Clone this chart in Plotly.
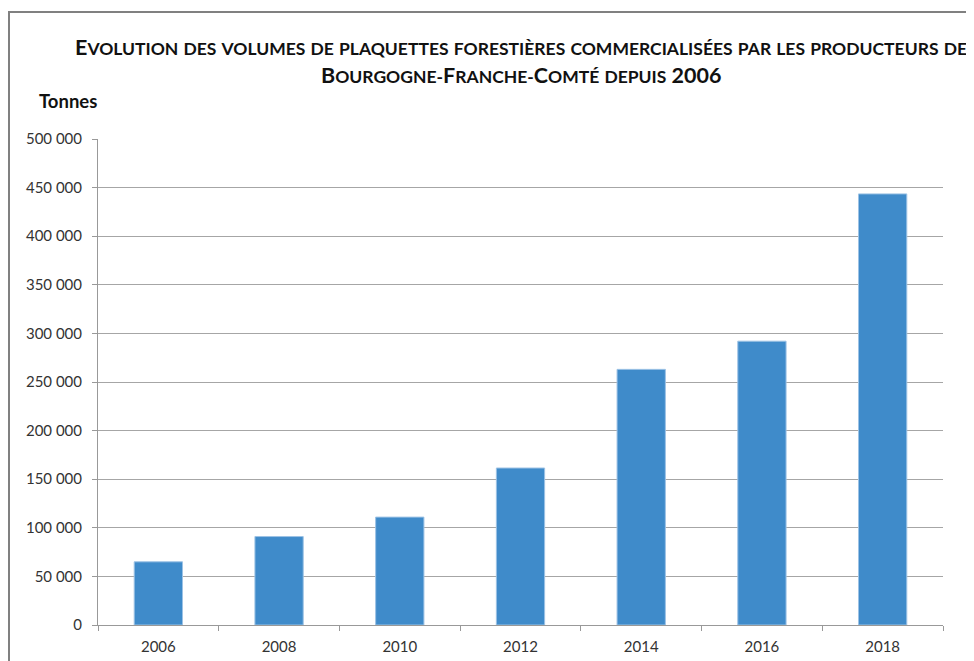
import plotly.graph_objects as go

years = ["2006", "2008", "2010", "2012", "2014", "2016", "2018"]
tonnes = [65000, 91000, 111000, 161500, 263000, 292000, 443500]
y_ticks = [0, 50000, 100000, 150000, 200000, 250000, 300000, 350000, 400000, 450000, 500000]

title_lines = [
    "Evolution des volumes de plaquettes forestières commercialisées par les producteurs de",
    "Bourgogne-Franche-Comté depuis 2006",
]

# the page body has an 8px margin, so figure coords = page coords - 8
OFF = 8
L, R, T, B = 98 - OFF, 943 - OFF, 139 - OFF, 625 - OFF
W, H = 974, 661
PW, PH = R - L, B - T


def px_x(x):
    return (x - OFF - L) / PW


def px_y(y):
    return (B - (y - OFF)) / PH


def small_caps(text, big=21.5, small=17.5):
    # emulate Excel's small caps title: capitals full size, the rest upper-cased smaller
    out = []
    for word in text.split(" "):
        parts = []
        for ch in word:
            if ch.isupper() or ch.isdigit():
                parts.append("<span style='font-size:%spx'>%s</span>" % (big, ch))
            else:
                parts.append("<span style='font-size:%spx'>%s</span>" % (small, ch.upper()))
        out.append("".join(parts))
    return " ".join(out)


fig = go.Figure(
    go.Bar(
        x=years,
        y=tonnes,
        marker=dict(color="#3F8BCA", line=dict(color="#9CC2E5", width=1)),
        hoverinfo="x+y",
    )
)

font = "Lato, 'Open Sans', sans-serif"

fig.update_layout(
    width=W,
    height=H,
    margin=dict(l=L, r=W - R, t=T, b=H - B),
    plot_bgcolor="white",
    paper_bgcolor="white",
    separators=", ",
    bargap=0.6,
    showlegend=False,
    font=dict(family=font, size=15, color="#333333"),
)

fig.update_xaxes(
    type="category",
    tickson="boundaries",
    ticks="outside",
    ticklen=5,
    tickcolor="#999999",
    showline=True,
    linecolor="#999999",
    linewidth=1,
    showgrid=False,
    ticklabelstandoff=8,
    tickfont=dict(size=15, color="#333333"),
)

fig.update_yaxes(
    range=[0, 500000],
    tickvals=y_ticks,
    tickformat=",d",
    ticks="outside",
    ticklen=5,
    tickcolor="#999999",
    showline=True,
    linecolor="#999999",
    linewidth=1,
    showgrid=True,
    gridcolor="#A6A6A6",
    gridwidth=1,
    zeroline=False,
    ticklabelstandoff=7,
    tickfont=dict(size=15, color="#333333"),
)

for i, line in enumerate(title_lines):
    fig.add_annotation(
        text="<b>" + small_caps(line) + "</b>",
        xref="paper", yref="paper",
        x=0.5, y=px_y(47 + 28 * i),
        xanchor="center", yanchor="middle",
        showarrow=False,
        font=dict(family=font, size=21, color="#111111"),
    )

fig.add_annotation(
    text="<b>Tonnes</b>",
    xref="paper", yref="paper",
    x=px_x(37), y=px_y(101),
    xanchor="left", yanchor="middle",
    showarrow=False,
    font=dict(family=font, size=18.5, color="#111111"),
)

# grey frame around the whole chart (runs off the right and bottom edges)
fig.add_shape(
    type="rect",
    xref="paper", yref="paper",
    x0=px_x(9), x1=1.2,
    y0=-0.3, y1=px_y(12),
    line=dict(color="#808080", width=2),
    layer="below",
)

fig.write_html("out.html")
